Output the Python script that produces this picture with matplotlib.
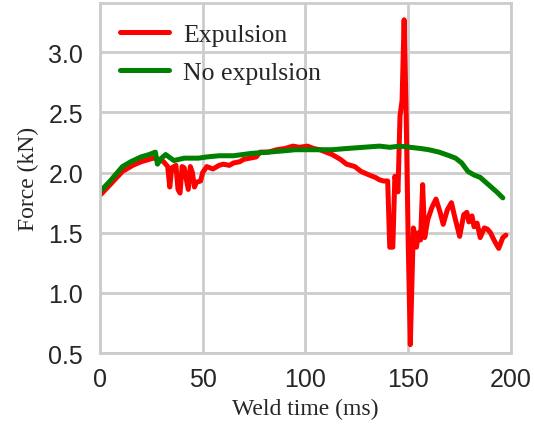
import matplotlib
matplotlib.use("Agg")
import matplotlib.pyplot as plt
import seaborn as sns

# Expulsion (red)
exp_time = [0, 5, 11, 16, 20, 24, 26, 29, 31, 33, 34, 35, 37, 38, 39, 40, 41, 43, 44, 45, 46, 47, 49,
            50, 52, 55, 58, 60, 63, 65, 68, 70, 73, 76, 78, 82, 86, 90, 94, 97, 101, 104, 107, 110, 113,
            117, 120, 124, 127, 131, 134, 136, 138, 140, 141, 142.5, 143.5, 145, 146, 147, 148, 149, 150, 151,
            152.5, 153, 154, 155, 156, 157, 158, 159.5, 161.5, 163.5, 165.5, 167, 169, 171, 172.5, 175,
            177, 178.5, 179.5, 181, 182, 183.5, 185, 187, 188.5, 190, 192, 194, 196, 197.5]
exp_force = [1.81, 1.90, 2.01, 2.06, 2.09, 2.11, 2.12, 2.11, 2.09, 2.05, 1.88, 2.04, 2.06, 1.86, 1.83, 2.05,
             2.04, 1.86, 2.05, 2.00, 1.88, 1.92, 1.93, 2.00, 2.05, 2.03, 2.06, 2.07, 2.06, 2.08, 2.09, 2.11,
             2.12, 2.13, 2.17, 2.17, 2.19, 2.20, 2.22, 2.21, 2.22, 2.20, 2.19, 2.17, 2.15, 2.11, 2.07, 2.05,
             2.01, 1.98, 1.96, 1.94, 1.93, 1.93, 1.38, 1.38, 1.97, 1.84, 2.47, 2.60, 3.27, 2.47, 1.40, 0.57,
             1.54, 1.50, 1.38, 1.50, 1.44, 1.90, 1.46, 1.61, 1.71, 1.78, 1.67, 1.57, 1.69, 1.75, 1.64, 1.47,
             1.65, 1.67, 1.59, 1.64, 1.55, 1.58, 1.46, 1.54, 1.53, 1.50, 1.43, 1.37, 1.46, 1.48]

# No expulsion (green)
noexp_time = [0, 5, 11, 15, 20, 24, 27, 28, 30, 32, 36, 41, 48, 52, 58, 65, 74, 82, 89, 95, 102, 108,
              113, 120, 128, 136, 141, 146, 151, 156, 160, 165, 170, 173, 176, 179, 182, 185, 189, 193, 196]
noexp_force = [1.84, 1.93, 2.05, 2.09, 2.13, 2.15, 2.17, 2.07, 2.12, 2.15, 2.10, 2.12, 2.12, 2.13, 2.14,
               2.14, 2.16, 2.17, 2.18, 2.19, 2.19, 2.19, 2.19, 2.20, 2.21, 2.22, 2.21, 2.22, 2.21, 2.20,
               2.19, 2.17, 2.14, 2.12, 2.08, 2.01, 1.98, 1.96, 1.90, 1.84, 1.79]

sns.set_theme(style="whitegrid")

fig = plt.figure(figsize=(5.34, 4.35), dpi=100)
ax = fig.add_axes([0.187, 0.186, 0.770, 0.805])

ax.plot(exp_time, exp_force, color="red", lw=3.6, label="Expulsion")
ax.plot(noexp_time, noexp_force, color="green", lw=3.6, label="No expulsion")

ax.set_xlim(0, 200)
ax.set_ylim(0.5, 3.41)
ax.set_xticks([0, 50, 100, 150, 200])
ax.set_yticks([0.5, 1.0, 1.5, 2.0, 2.5, 3.0])
ax.set_yticklabels(["0.5", "1.0", "1.5", "2.0", "2.5", "3.0"])

for s in ax.spines.values():
    s.set_color("#cccccc")
    s.set_linewidth(2)
ax.grid(True, color="#cccccc", linewidth=2)

ax.tick_params(axis="both", labelsize=18, colors="#262626", length=0)
ax.tick_params(axis="y", pad=12)
ax.tick_params(axis="x", pad=10)
for t in ax.get_xticklabels() + ax.get_yticklabels():
    t.set_family(["Liberation Sans", "DejaVu Sans"])

serif = ["Liberation Serif", "DejaVu Serif"]
ax.set_xlabel("Weld time (ms)", family=serif, fontsize=17, color="#262626", labelpad=5)
ax.set_ylabel("Force (kN)", family=serif, fontsize=17, color="#262626", labelpad=7)

leg = ax.legend(loc="upper left", frameon=False, prop={"family": serif, "size": 18.5},
                handlelength=1.9, handletextpad=0.55, labelspacing=0.55,
                borderaxespad=0.3, borderpad=0.5)

fig.savefig("out.png", dpi=100)
